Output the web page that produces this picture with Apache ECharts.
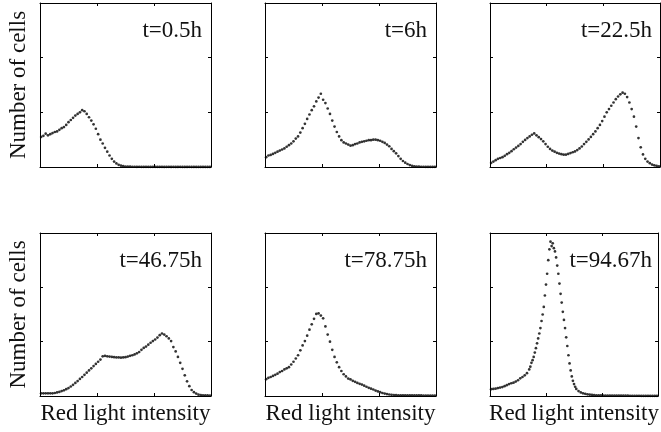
<!DOCTYPE html>
<html>
<head>
<meta charset="utf-8">
<script src="https://cdn.jsdelivr.net/npm/echarts@6/dist/echarts.min.js"></script>
<style>
html, body { margin: 0; padding: 0; background: #fff; }
#main { width: 661px; height: 432px; }
</style>
</head>
<body>
<div id="main"></div>
<script>
// bin centres (red light intensity, arbitrary units 0-150)
var binX = [1,3,5,7,9,11,13,15,17,19,21,23,25,27,29,31,33,35,37,39,41,43,45,47,49,51,53,55,57,59,61,63,65,67,69,71,73,75,
  77,79,81,83,85,87,89,91,93,95,97,99,101,103,105,107,109,111,113,115,117,119,121,123,125,127,129,131,133,135,137,139,141,143,145,147,149];

// number of cells per bin, one array per time point
var counts_05 = [55,57,61,58,60,62,64,65,68,71,73,77,82,86,90,94,97,100,104,102,97,91,85,78,70,60,50,43,35,28,21,15,10,6.5,4,2.5,1.5,0.9,
  0.7,0.6,0.5,0.5,0.4,0.5,0.4,0.4,0.3,0.4,0.3,0.3,0.4,0.3,0.3,0.3,0.2,0.3,0.3,0.2,0.3,0.2,0.2,0.3,0.2,0.2,0.2,0.3,0.2,0.2,0.2,0.2,0.2,0.1,0.2,0.2,0.1];
var counts_6 = [18,21,22,24,26,28,30,32,34,37,40,43,47,52,56,63,71,79,88,96,104,111,120,127,134,123,117,107,97,85,74,64,56,49,45,43,41,39,
  40,42,43,45,46,47,48,49,49,50,50,49,48,46,44,41,38,33,29,25,20,15,11,8,5.5,3.5,2.2,1.3,0.8,0.6,0.5,0.5,0.4,0.4,0.4,0.3,0.3];
var counts_225 = [7.5,10,12.5,15,16.5,18,20.5,23.5,26,29,32.5,35.5,38.5,42,46,49.5,53,56,59,61.5,58,54.5,51,47,42,37,33,30,28,26,24.5,23.5,22.5,22.5,24,25.5,27,28.5,
  31,34,37.5,42,46,50.5,55,60,65,71,77,84,92,100,106,112,118,124,129,133,136,134,128,118,106,92,74,53,36,23,15,10,7,4.5,3,2,1.2];
var counts_4675 = [5,5,5,5,5,5,5.5,6.5,7.5,9,10.5,12.5,14.5,17.5,20.5,24,27.5,31.5,35,39,43,47,51,55,59,63,67,73,74,73,72.5,72,71.5,71,71,70.5,71,71.5,
  72.5,74,75,76.5,78.5,81,85,88.5,91,94.5,98,101,104,107.5,112,115,113,110,106,101,90,82,72,61,50,38,27,18,11,7,4.5,2.5,1.8,1.3,1.1,1,0.9];
var counts_7875 = [31,33.5,35,37,39,41,44,46,49,51,53,58,63,69,75,84,93,101,111,122,132,142,151,152,148,143,128,113,100,85,72,62,53,46,40,36,32,30.5,
  28,26,24,22.5,21,19,17,15,13.5,12,10,8.5,7,5.5,4.5,3.5,2.8,2.2,1.8,1.6,1.4,1.3,1.2,1.2,1.1,1.2,1.1,1,1,1.1,1,0.9,0.9,0.8,0.8,0.7,0.6];
var counts_9467 = [12.5,13,13.5,14.5,15.5,16.5,18,20,22,23.5,24.5,26.5,29,32.5,35,38,42,49,61,72,88,106,125,150,185,225,270,276,272,255,225,188,155,125,92,60,36,22,
  13,9,6.5,5,4,3,2.5,2,1.6,1.3,1.1,1,0.9,0.9,0.8,0.8,0.8,0.7,0.7,0.7,0.6,0.6,0.6,0.6,0.5,0.5,0.5,0.5,0.5,0.4,0.4,0.4,0.4,0.4,0.3,0.3,0.3];
// extra dots read on the steep sides of the last peak
var peakX_9467 = [36,38,40,42,44,46,48,50,52,54,56,58,60,62,64,66,68,70,72,74,76];
var peakY_9467 = [54,66,80,97,115,138,164,205,250,284,281,266,240,207,172,140,108,75,47,28,17];

var panelLabels = ['t=0.5h', 't=6h', 't=22.5h', 't=46.75h', 't=78.75h', 't=94.67h'];
var panelCounts = [counts_05, counts_6, counts_225, counts_4675, counts_7875, counts_9467];
var yName = 'Number of cells';
var xName = 'Red light intensity';

var myChart = echarts.init(document.getElementById('main'));

var gridLeft = [40, 265, 490];
var gridWidth = [171, 171, 170];
var gridTop = [3, 233];
var gridHeight = [164, 163];
var labelRight = [459, 234, 9];
var labelTop = [19, 249];
var fontFamily = '"Liberation Serif", "Times New Roman", serif';
var fontSize = 23;

var grids = [], xAxes = [], yAxes = [], series = [], texts = [];

function axisBase(g) {
  return {
    gridIndex: g,
    type: 'value',
    axisLine: { show: true, onZero: false, lineStyle: { color: '#000', width: 1 } },
    axisTick: { show: true, inside: true, length: 3, lineStyle: { color: '#000', width: 1 } },
    axisLabel: { show: false },
    splitLine: { show: false },
    nameTextStyle: { fontFamily: fontFamily, fontSize: fontSize, color: '#111' }
  };
}

for (var g = 0; g < 6; g++) {
  var row = Math.floor(g / 3), col = g % 3;
  grids.push({
    left: gridLeft[col], top: gridTop[row],
    width: gridWidth[col], height: gridHeight[row],
    containLabel: false
  });
  var xb = axisBase(g);
  xb.position = 'bottom'; xb.min = 0; xb.max = 150; xb.interval = 50;
  if (row == 1) { xb.name = xName; xb.nameLocation = 'middle'; xb.nameGap = 6; }
  var xt = axisBase(g);
  xt.position = 'top'; xt.min = 0; xt.max = 150; xt.interval = 50;
  xAxes.push(xb, xt);

  var yl = axisBase(g);
  yl.position = 'left'; yl.min = 0; yl.max = 300; yl.interval = 100;
  if (col == 0) { yl.name = yName; yl.nameLocation = 'middle'; yl.nameGap = 10; }
  var yr = axisBase(g);
  yr.position = 'right'; yr.min = 0; yr.max = 300; yr.interval = 100;
  yAxes.push(yl, yr);

  var counts = panelCounts[g];
  var data = [];
  for (var i = 0; i < binX.length; i++) {
    data.push([binX[i], counts[i]]);
  }
  if (g == 5) {
    for (var j = 0; j < peakX_9467.length; j++) {
      data.push([peakX_9467[j], peakY_9467[j]]);
    }
  }
  series.push({
    type: 'scatter',
    xAxisIndex: 2 * g,
    yAxisIndex: 2 * g,
    symbol: 'circle',
    symbolSize: 2.7,
    itemStyle: { color: '#000' },
    silent: true,
    data: data
  });

  texts.push({
    type: 'text',
    right: labelRight[col],
    top: labelTop[row],
    style: {
      text: panelLabels[g],
      fontFamily: fontFamily,
      fontSize: fontSize,
      fill: '#111'
    }
  });
}

myChart.setOption({
  animation: false,
  backgroundColor: '#fff',
  grid: grids,
  xAxis: xAxes,
  yAxis: yAxes,
  series: series,
  graphic: texts
});
</script>
</body>
</html>
